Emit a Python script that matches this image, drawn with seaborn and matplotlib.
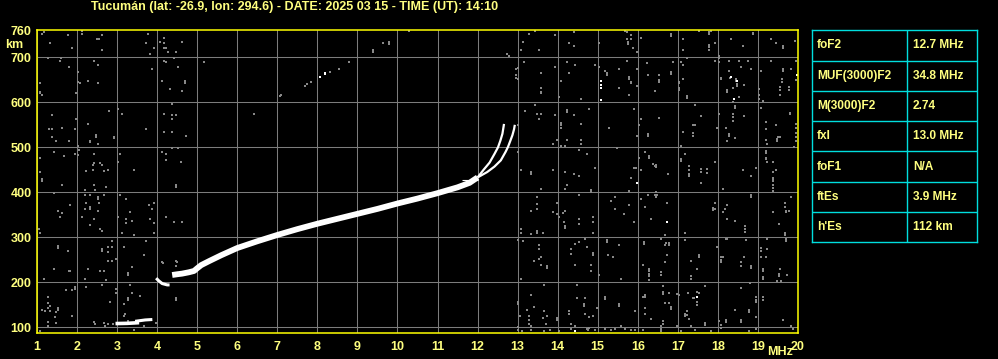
import matplotlib
matplotlib.use("Agg")
import matplotlib.pyplot as plt
import seaborn as sns
import pandas as pd

TITLE = "Tucumán (lat: -26.9, lon: 294.6) - DATE: 2025 03 15 - TIME (UT): 14:10"
X_TICKS = list(range(1, 21))
Y_TICKS = [100, 200, 300, 400, 500, 600, 700, 760]
GRID_H = [100, 200, 300, 400, 500, 600, 700]
PARAM_NAMES = ["foF2", "MUF(3000)F2", "M(3000)F2", "fxI", "foF1", "ftEs", "h'Es"]
PARAM_VALUES = ["12.7 MHz", "34.8 MHz", "2.74", "13.0 MHz", "N/A", "3.9 MHz", "112 km"]

# ---- echo traces (frequency MHz, virtual height km) ----
F2_F = [4.375, 4.45, 4.53, 4.62, 4.79, 4.92, 5.0, 5.1, 5.3, 5.6, 6.0, 6.5, 7.0, 7.5,
        8.0, 8.5, 9.0, 9.5, 10.0, 10.5, 11.0, 11.5, 11.8, 12.0]
F2_H = [216, 217, 218, 219, 222, 225, 231, 238, 247, 260, 276, 291, 305, 318,
        330, 341, 352, 363, 375, 386, 398, 411, 421, 433]
O_F = [12.0, 12.15, 12.3, 12.42, 12.51, 12.57, 12.62, 12.66]
O_H = [433, 450, 466, 485, 500, 515, 530, 552]
X_F = [12.0, 12.24, 12.42, 12.58, 12.7, 12.76, 12.82, 12.87, 12.91, 12.93]
X_H = [433, 445, 457, 471, 490, 501, 515, 527, 540, 550]
CUSP_F = [3.975, 4.04, 4.125, 4.25, 4.31]
CUSP_H = [209, 203, 197, 194, 194]
ES1_F = [2.96, 3.25, 3.55]
ES1_H = [108, 108.5, 110]
ES2_F = [3.45, 3.7, 3.88]
ES2_H = [113, 116, 117]
ART_F = [11.6, 12.0]
ART_H = [428, 428]

# ---- scattered noise echoes (f, h) ----
NOISE_LOW_TOP = [(1.17,757),(1.125,752),(1.78,749),(1.33,731),(1.875,721),(2.125,758),(2.125,752),(2.5,740),(2.54,740),
    (2.625,749),(2.625,717),(3.775,752),(3.725,731),(3.93,721),(3.83,708),(4.08,734),(4.18,743),(4.18,731),(4.17,721),
    (4.21,721),(4.275,712),(4.475,712),(4.625,734),(1.275,698),(1.61,698),(1.58,692),(1.79,678),(2.43,692),(2.525,683),
    (2.025,668),(2.025,646),(2.07,644),(2.275,647),(2.525,642),(3.875,674),(4.18,692),(4.225,689),(4.417,698),(4.525,678),
    (4.125,647),(4.683,647),(4.683,642),(4.33,629),(4.61,625),(1.083,642),(1.083,624),(1.083,620),(1.13,616),(1.975,620),
    (4.375,597),(2.79,580),(3.025,585),(3.125,575),(1.375,571),(1.975,562),(1.625,543),(1.29,540),(1.375,540),(1.375,524),
    (1.94,540),(2.275,552),(2.475,527),(2.475,522),(2.93,524),(2.93,520),(2.33,515),(2.33,511),(2.525,507),(1.79,513),
    (1.48,513),(3.73,540),(4.18,575),(4.18,535),(4.375,571),(4.48,571),(4.375,562),(4.375,535),(4.73,526),(4.375,498),
    (4.525,498),(4.125,490),(4.225,485),(4.225,471),(4.585,468),(2.025,502),(2.04,495),(2.025,483),(1.94,485),(1.68,481),
    (1.43,490),(1.083,477),(1.083,445),(1.125,429),(2.43,485),(2.43,465),(2.4,460),(2.58,465),(2.625,460),(2.23,447),
    (2.39,450),(2.67,447),(2.775,450),(3.08,485),(3.025,468),(3.43,450)]
NOISE_LOW_BOT = [(1.125,424),(1.625,416),(2.43,416),(2.725,412),(2.19,404),(2.44,404),(1.42,398),(2.19,394),(2.33,394),
    (2.525,390),(2.525,385),(2.67,394),(3.08,394),(3.225,385),(4.475,416),(4.475,412),(1.83,372),(2.225,377),(2.33,368),
    (2.33,363),(2.54,377),(2.19,363),(2.525,359),(3.79,372),(3.93,377),(3.875,363),(1.525,359),(1.625,353),(1.58,346),
    (2.125,346),(2.43,341),(2.33,327),(3.025,346),(3.225,340),(3.225,331),(3.375,336),(3.33,355),(3.83,340),(3.93,331),
    (4.225,346),(4.43,333),(4.625,333),(1.04,318),(1.083,310),(2.58,318),(2.625,314),(3.125,309),(3.43,305),(3.93,310),
    (2.875,291),(3.73,291),(1.525,281),(1.525,277),(1.775,270),(2.625,273),(2.625,270),(2.775,279),(2.875,279),(2.775,268),
    (3.17,279),(3.67,261),(2.775,248),(2.875,248),(2.96,252),(4.125,244),(4.475,247),(4.475,235),(1.42,229),(1.79,226),
    (1.83,226),(2.275,229),(2.58,226),(2.67,226),(3.275,220),(3.275,216),(3.375,233),(1.17,207),(2.19,207),(2.725,204),
    (2.625,194),(3.33,194),(1.94,189),(1.94,184),(1.875,183),(1.73,182),(2.225,189),(2.96,185),(2.96,176),(3.375,177),
    (3.58,170),(3.275,165),(3.275,161),(1.275,167),(1.275,154),(1.33,148),(1.275,142),(1.125,139),(1.19,135),(1.525,142),
    (1.525,139),(1.33,135),(1.475,133),(1.46,122),(1.475,109),(1.275,111),(1.275,102),(1.875,125),(2.42,111),(2.46,108),
    (2.67,109),(2.71,103),(2.775,108),(2.89,108),(2.83,157),(3.17,152),(3.19,130),(3.17,124),(3.275,113),(3.46,109),
    (3.67,103),(3.975,109),(4.475,165),(4.475,161),(3.43,94),(1.083,91),(4.14,243),(4.49,245)]
NOISE_MID = [(5.18,689),(6.41,573),(12.73,708),(12.78,704),(12.95,675),(12.95,660),(12.95,655),
    (7.07,613),(7.1,616),(7.7,636),(7.75,640),(7.84,645),(8.31,667),(8.54,675),(8.79,690),(9.39,716),(9.39,712),
    (9.64,732),(9.79,734),(9.79,730),(10.28,758)]
NOISE_HIGH_A = [(13.44,758),(13.29,753),(13.94,749),(14.4,757),(13.125,734),(13.09,717),(13.54,717),(14.275,731),(14.4,726),
    (15.025,731),(15.69,758),(15.73,757),(15.84,749),(15.73,740),(15.76,735),(15.76,730),(15.84,740),(16.09,743),(15.88,721),
    (15.98,712),(13.15,689),(13.94,678),(14.23,689),(14.44,683),(13.59,666),(14.29,666),(14.09,648),(13.59,633),(13.59,624),
    (13.59,620),(14.59,607),(14.04,611),(14.94,683),(15.04,678),(15.19,670),(15.23,665),(15.23,661),(15.54,674),(15.73,692),
    (15.79,657),(15.79,653),(15.84,646),(15.84,642),(15.54,633),(15.79,616),(15.98,637),(15.98,674),(16.23,687),(16.25,661),
    (16.44,625),(13.0,676),(13.0,653),(13.44,594),(13.19,580),(13.48,575),(13.59,575),(13.54,562),(13.94,571),(14.23,582),
    (14.23,578),(14.4,571),(14.79,585),(14.09,555),(14.09,549),(14.09,544),(14.59,552),(15.29,543),(15.9,585),(16.09,562),
    (16.04,549),(15.98,526),(16.25,530),(16.25,526),(13.98,517),(14.23,517),(14.59,517),(14.59,507),(13.88,507),(14.09,502),
    (14.19,504),(13.0,549),(13.0,489),(15.48,498),(14.54,495),(14.73,485),(16.19,489),(16.29,481),(16.29,477),(16.04,477),
    (16.38,463),(16.44,459),(15.9,455),(15.95,455),(13.34,444),(13.34,440),(13.09,449),(13.88,449),(14.19,445),(14.4,440),
    (14.54,436),(14.94,455),(15.84,431),(16.09,449)]
NOISE_HIGH_B = [(14.23,416),(14.19,407),(13.59,407),(14.84,405),(14.84,400),(15.79,403),(14.54,394),(13.48,390),(13.48,373),
    (13.48,363),(13.34,359),(15.43,390),(15.34,381),(15.44,363),(15.79,372),(16.09,385),(16.26,394),(16.44,394),(16.48,394),
    (16.19,368),(16.34,341),(13.88,355),(13.98,377),(13.98,352),(14.025,346),(14.125,353),(14.19,359),(14.15,333),(14.175,320),
    (14.175,325),(14.525,341),(14.525,329),(14.88,346),(14.88,333),(14.88,310),(15.65,351),(15.9,333),(13.09,318),(13.09,310),
    (13.34,307),(13.48,313),(13.48,310),(13.63,310),(13.0,294),(13.125,292),(13.54,283),(13.54,274),(13.59,256),(13.54,252),
    (13.4,248),(13.59,239),(13.73,236),(13.73,231),(13.09,208),(14.32,274),(14.34,263),(14.44,285),(14.54,289),(14.69,296),
    (14.73,279),(14.88,265),(14.88,261),(14.44,239),(14.84,239),(14.84,226),(15.23,294),(15.23,290),(15.54,283),(15.26,261),
    (15.38,256),(15.025,216),(15.59,208),(16.15,290),(16.15,285),(16.13,239),(16.29,230),(16.29,225),(16.275,219),(16.275,214),
    (16.275,205),(13.65,194),(14.48,194),(13.34,172),(13.0,157),(13.0,151),(13.4,144),(13.23,139),(13.07,125),(13.29,125),
    (13.29,117),(13.29,108),(13.34,103),(13.65,135),(13.73,125),(13.63,120),(13.71,108),(13.98,121),(13.98,115),(14.29,135),
    (14.29,130),(14.48,165),(14.69,165),(14.65,152),(14.65,148),(14.69,130),(14.79,122),(14.875,125),(14.98,142),(15.19,167),
    (15.19,163),(15.54,152),(15.54,148),(15.94,135),(16.13,168),(16.19,171),(16.19,167),(16.19,142),(16.19,130),(16.34,118),
    (14.34,108),(14.44,103),(14.73,96),(14.75,94),(14.79,98),(13.0,101),(13.0,94),(13.11,91),(13.34,93),(13.65,91),(13.82,93),
    (14.025,91),(14.34,95),(14.94,94),(15.175,96),(15.32,93),(15.44,96),(15.59,102),(15.69,96),(15.82,93),(15.94,94),(16.125,94)]
NOISE_TOP_C = [(16.83,751),(16.83,747),(17.125,740),(17.125,717),(17.54,758),(17.79,757),(17.79,752),(17.83,758),(17.92,732),
    (17.775,728),(17.775,724),(17.775,717),(18.33,740),(18.625,726),(18.875,755),(18.875,751),(19.33,740),(19.44,731),
    (19.625,725),(19.625,720),(19.92,736),(16.875,689),(17.08,689),(17.125,683),(16.83,668),(16.83,664),(16.54,661),(16.54,650),
    (16.54,646),(17.025,646),(17.025,642),(17.025,631),(17.025,627),(17.125,651),(17.225,614),(17.225,610),(17.225,698),
    (17.94,692),(18.025,702),(18.025,698),(18.04,689),(18.275,692),(18.525,692),(18.58,678),(18.83,674),(18.75,692),(18.275,670),
    (18.31,655),(18.08,655),(18.08,651),(18.46,653),(18.46,648),(18.48,640),(18.48,636),(18.64,638),(18.225,627),(18.225,623),
    (18.375,632),(18.525,612),(18.42,592),(18.42,588),(18.375,600),(19.025,629),(19.025,616),(19.025,607),(19.125,602),
    (19.08,588),(19.08,670),(19.33,692),(19.625,674),(19.625,670),(19.83,674),(19.61,651),(19.61,646),(19.56,635),(19.54,627),
    (19.54,616),(19.775,635),(19.775,627),(19.96,650),(19.96,691),(17.42,595),(17.58,570),(18.025,575),(18.375,575),
    (18.375,567),(18.375,558),(18.64,570),(16.525,566),(17.375,549),(17.42,549),(17.375,532),(17.375,526),(17.125,535),
    (17.975,543),(18.19,543),(18.275,530),(18.275,526),(18.225,515),(18.43,521),(18.225,513),(19.19,557),(19.19,541),
    (19.44,549),(19.5,524),(19.55,524),(19.475,515),(19.475,519),(19.19,517),(19.225,507),(19.79,577),(19.79,573),(19.94,552),
    (19.94,543),(19.94,532),(19.94,522),(19.94,513),(19.89,500),(17.08,503),(17.19,485),(17.08,474),(17.08,470),(17.29,459),
    (17.29,450),(17.275,440),(17.275,436),(17.58,452),(17.58,444),(17.725,452),(17.725,442),(17.94,468),(16.46,460),
    (16.46,456),(16.75,440),(18.625,450),(18.83,436),(18.94,453),(19.19,492),(19.19,488),(19.19,477),(19.19,473),(19.225,468),
    (19.375,468),(19.44,450),(19.375,444),(19.375,431),(19.375,427)]
NOISE_BOT_C = [(17.58,421),(18.125,407),(19.375,424),(19.375,416),(19.375,409),(19.375,402),(16.46,401),(16.46,390),
    (18.83,393),(18.83,389),(19.83,390),(16.725,377),(17.92,377),(18.225,372),(17.89,364),(17.89,360),(17.94,362),(18.17,363),
    (18.125,355),(18.225,341),(18.43,337),(18.67,324),(18.67,318),(18.67,312),(19.375,355),(19.67,377),(19.67,368),(19.69,359),
    (19.69,355),(19.775,359),(19.525,329),(19.67,309),(19.67,305),(17.18,310),(16.67,305),(16.58,296),(16.71,288),(16.775,287),
    (16.79,283),(16.67,283),(17.19,294),(16.73,261),(16.67,244),(16.58,222),(16.58,217),(17.33,248),(17.48,230),(17.525,261),
    (17.525,256),(17.33,213),(17.33,208),(18.08,256),(18.08,250),(18.08,244),(18.125,257),(17.975,279),(18.19,296),(18.225,296),
    (18.69,293),(18.64,256),(18.58,244),(18.58,235),(18.83,236),(18.83,231),(19.23,296),(19.08,276),(19.08,270),(19.08,257),
    (19.19,256),(19.225,274),(19.125,230),(19.125,225),(19.125,211),(19.125,206),(19.54,229),(19.525,219),(19.525,214),
    (19.475,203),(19.58,203),(19.725,217),(19.69,296),(19.69,291),(16.625,191),(16.625,178),(16.625,174),(16.775,177),
    (16.975,174),(17.025,172),(17.25,177),(17.475,179),(17.525,176),(17.67,191),(17.375,165),(17.41,165),(17.475,155),
    (17.475,150),(16.67,153),(16.775,153),(16.83,145),(16.83,140),(17.225,135),(17.19,130),(17.19,125),(17.225,126),
    (17.275,118),(18.58,187),(18.79,198),(18.96,167),(18.96,160),(18.96,155),(19.125,167),(19.125,160),(18.43,139),
    (18.775,139),(18.775,134),(18.19,116),(18.19,111),(18.58,116),(18.58,111),(18.94,122),(19.625,117),(16.625,114),
    (16.625,107),(16.58,102),(16.58,97),(16.975,102),(17.08,91),(17.33,102),(17.42,94),(17.67,110),(17.67,104),(17.83,91),
    (18.025,113),(18.08,104),(18.08,98),(18.775,91),(18.94,96),(19.83,102),(19.875,96),(16.58,91)]
WHITE_SPOTS = [(8.07,656),(8.2,662),(8.2,666),(15.09,648),(15.09,638),(15.09,632),(15.09,605),(15.98,421),(14.425,92),
    (18.33,656),(18.48,648),(18.39,607),(19.975,661),(17.475,167),(16.725,333)]

# ---------------- figure ----------------
sns.set_theme(style="dark")
plt.rcParams.update({
    "figure.facecolor": "black", "axes.facecolor": "black", "savefig.facecolor": "black",
    "axes.edgecolor": "#ffff00", "text.color": "#ffff80",
    "xtick.color": "#ffff80", "ytick.color": "#ffff80",
})
plt.rcParams["font.family"] = ["Liberation Sans", "DejaVu Sans"]

W, H = 998, 359
fig = plt.figure(figsize=(W / 100, H / 100), dpi=100)
ax = fig.add_axes([37 / W, 1 - 333 / H, (798 - 37) / W, (333 - 29.5) / H])

GRID_C = "#7c7c7c"
for xv in X_TICKS:
    ax.axvline(xv, color=GRID_C, lw=0.75, zorder=1)
for yv in GRID_H:
    ax.axhline(yv, color=GRID_C, lw=0.75, zorder=1)

noise = pd.DataFrame(NOISE_LOW_TOP + NOISE_LOW_BOT + NOISE_MID + NOISE_HIGH_A + NOISE_HIGH_B
                     + NOISE_TOP_C + NOISE_BOT_C, columns=["f", "h"])
sns.scatterplot(data=noise, x="f", y="h", ax=ax, marker="s", s=2.8, color="#888888",
                linewidth=0, zorder=2)
white = pd.DataFrame(WHITE_SPOTS, columns=["f", "h"])
sns.scatterplot(data=white, x="f", y="h", ax=ax, marker="s", s=2.8, color="white",
                linewidth=0, zorder=3)

def trace(fs, hs, lw):
    sns.lineplot(x=fs, y=hs, ax=ax, sort=False, estimator=None, color="white",
                 lw=lw, zorder=4, solid_capstyle="butt")

trace(F2_F, F2_H, 4.2)
trace(O_F, O_H, 1.6)
trace(X_F, X_H, 1.6)
trace(CUSP_F, CUSP_H, 2.2)
trace(ES1_F, ES1_H, 2.6)
trace(ES2_F, ES2_H, 2.2)
trace(ART_F, ART_H, 0.8)

ax.set_xlim(1, 20)
ax.set_ylim(87, 762)
ax.set_xticks(X_TICKS)
ax.set_xticklabels([str(v) for v in X_TICKS], fontsize=9, fontweight="bold")
ax.set_yticks(Y_TICKS)
ax.set_yticklabels([str(v) for v in Y_TICKS], fontsize=9, fontweight="bold")
ax.tick_params(axis="both", length=0)
ax.tick_params(axis="x", pad=6)
ax.tick_params(axis="y", pad=4)
ax.set_xlabel("")
ax.set_ylabel("")
ax.grid(False)
for sp in ax.spines.values():
    sp.set_visible(True)
    sp.set_color("#ffff00")
    sp.set_linewidth(1.1)
    sp.set_zorder(6)

fig.text(91 / W, 1 - 6.8 / H, TITLE, ha="left", va="center", fontsize=9.0,
         fontweight="bold", color="#ffff80")
fig.text(14 / W, 1 - 44.5 / H, "km", ha="center", va="center", fontsize=9,
         fontweight="bold", color="#ffff80")
fig.text(780 / W, 1 - 352 / H, "MHz", ha="center", va="center", fontsize=9,
         fontweight="bold", color="#ffff80")

# ---------------- parameter table ----------------
tx0, tx1, ty0, ty1 = 812.3, 977.3, 30.3, 242.3
tax = fig.add_axes([tx0 / W, 1 - ty1 / H, (tx1 - tx0) / W, (ty1 - ty0) / H])
tax.set_xlim(0, 1)
tax.set_ylim(len(PARAM_NAMES), 0)
tax.set_xticks([])
tax.set_yticks([])
tax.grid(False)
CYAN = "#00dede"
for sp in tax.spines.values():
    sp.set_color(CYAN)
    sp.set_linewidth(1.0)
split = (907.3 - tx0) / (tx1 - tx0)
tax.axvline(split, color=CYAN, lw=1.0)
for i in range(1, len(PARAM_NAMES)):
    tax.axhline(i, color=CYAN, lw=1.0)
for i, (nm, val) in enumerate(zip(PARAM_NAMES, PARAM_VALUES)):
    tax.text(4.7 / (tx1 - tx0), i + 0.5, nm, ha="left", va="center", fontsize=8.6,
             fontweight="bold", color="#ffff80")
    tax.text(split + 5.5 / (tx1 - tx0), i + 0.5, val, ha="left", va="center", fontsize=8.6,
             fontweight="bold", color="#ffff80")

fig.savefig("out.png", dpi=100, facecolor="black")
